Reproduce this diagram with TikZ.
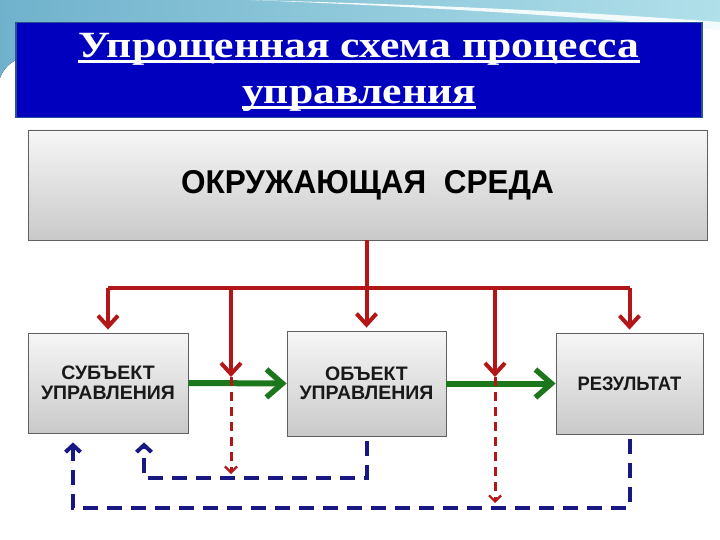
\documentclass[tikz,border=0pt]{standalone}
\usepackage{fontspec}
\setmainfont{Liberation Serif}
\newfontfamily\boxfont{Liberation Sans}
\usetikzlibrary{arrows.meta,calc}
\definecolor{titleblue}{RGB}{0,0,190}
\definecolor{titleedge}{RGB}{40,80,150}
\definecolor{redarr}{RGB}{178,22,22}
\definecolor{greenarr}{RGB}{28,118,28}
\definecolor{bluearr}{RGB}{24,24,130}
\definecolor{swooshA}{RGB}{112,178,204}
\definecolor{swooshB}{RGB}{176,224,234}
\tikzset{
  graybox/.style={draw=gray!75!black, line width=0.8pt, top color=gray!7, bottom color=gray!42, inner sep=0pt, text=black!90, align=center},
  boxlabel/.style={font=\boxfont\bfseries\fontsize{19.5}{19.5}\selectfont},
  titletext/.style={text=white, inner sep=0pt, anchor=base, font=\fontsize{37}{44}\selectfont\bfseries},
  titleline/.style={draw=white, line width=2.4pt},
  redline/.style={draw=redarr, line width=4pt},
  redtip/.style={-{Straight Barb[length=11pt,width=20pt,line width=4pt]}},
  reddash/.style={draw=redarr, line width=3pt, dash pattern=on 9pt off 6pt, -{Straight Barb[length=6pt,width=12pt,line width=2.2pt]}},
  greenarrow/.style={draw=greenarr, line width=6pt, -{Straight Barb[length=16pt,width=28pt,line width=5.5pt]}},
  bluedash/.style={draw=bluearr, line width=4pt, dash pattern=on 15pt off 9pt, -{Straight Barb[length=7pt,width=15pt,line width=4pt]}}
}
\begin{document}
\begin{tikzpicture}[x=1pt,y=-1pt]
\useasboundingbox (0,0) rectangle (720,540);
\fill[white] (0,0) rectangle (720,540);
% decorative background swoosh
\fill[left color=swooshA, right color=swooshB] (0,0) -- (720,0) -- (720,24) -- (16,24) -- (16,60) .. controls (8,64) and (3,70) .. (0,78) -- cycle;
\fill[white!85!swooshB] (250,0) .. controls (400,4) and (560,10) .. (720,22) -- (720,30) .. controls (560,14) and (400,6) .. (250,0) -- cycle;
\draw[white, line width=0.6pt] (0,84) .. controls (5,74) and (10,68) .. (16,64);
% title
\node[fill=titleblue, draw=titleedge, line width=1.5pt, minimum width=686pt, minimum height=95pt, inner sep=0pt] (title) at (359,70) {};
\node[titletext] (t1) at (359,58) {\scalebox{1.18}[1]{Упрощенная схема процесса}};
\node[titletext] (t2) at (359,104) {\scalebox{1.18}[1]{управления}};
\draw[titleline] ($(t1.base west)+(0,3.5)$) -- ($(t1.base east)+(0,3.5)$);
\draw[titleline] ($(t2.base west)+(0,3.5)$) -- ($(t2.base east)+(0,3.5)$);
% boxes
\node[graybox, minimum width=679pt, minimum height=110pt, font=\boxfont\bfseries\fontsize{33}{38}\selectfont, text=black] (env) at (367.5,185) {\scalebox{0.955}[1]{ОКРУЖАЮЩАЯ\ \ СРЕДА}};
\node[graybox, boxlabel, minimum width=160pt, minimum height=100pt] (subj) at (108,383) {СУБЪЕКТ\\УПРАВЛЕНИЯ};
\node[graybox, boxlabel, minimum width=159pt, minimum height=105pt] (obj) at (366.5,383.5) {ОБЪЕКТ\\УПРАВЛЕНИЯ};
\node[graybox, boxlabel, minimum width=147pt, minimum height=101pt] (res) at (629.5,383.5) {\scalebox{0.94}[1]{РЕЗУЛЬТАТ}};
% coordinates
\coordinate (bus) at (366,288);
\coordinate (m1) at (231,288);
\coordinate (m2) at (495,288);
\coordinate (e1) at (231,377);
\coordinate (e2) at (495,377);
\coordinate (d1) at (231,474);
\coordinate (d2) at (495,503);
\coordinate (f1) at (144,478);
\coordinate (f2) at (73,508);
% red distribution
\draw[redline] (subj.north |- bus) -- (res.north |- bus);
\draw[redline, redtip, shorten >=3pt] (env.south -| obj.north) -- (obj.north);
\draw[redline, redtip, shorten >=3pt] (subj.north |- bus) -- (subj.north);
\draw[redline, redtip, shorten >=3pt] (res.north |- bus) -- (res.north);
% green arrows
\draw[greenarrow] (subj.east) -- (obj.west);
\draw[greenarrow] (obj.east) -- (res.west);
% red dashed continuation
\draw[reddash] (e1) -- (d1);
\draw[reddash] (e2) -- (d2);
% red arrows onto green
\draw[redline, redtip] (m1) -- (e1);
\draw[redline, redtip] (m2) -- (e2);
% blue feedback
\draw[bluedash, shorten <=5pt, shorten >=9pt] (obj.south) |- (f1) -- (f1 |- subj.south);
\draw[bluedash, shorten <=5pt, shorten >=9pt] (res.south) |- (f2) -- (f2 |- subj.south);
\end{tikzpicture}
\end{document}
